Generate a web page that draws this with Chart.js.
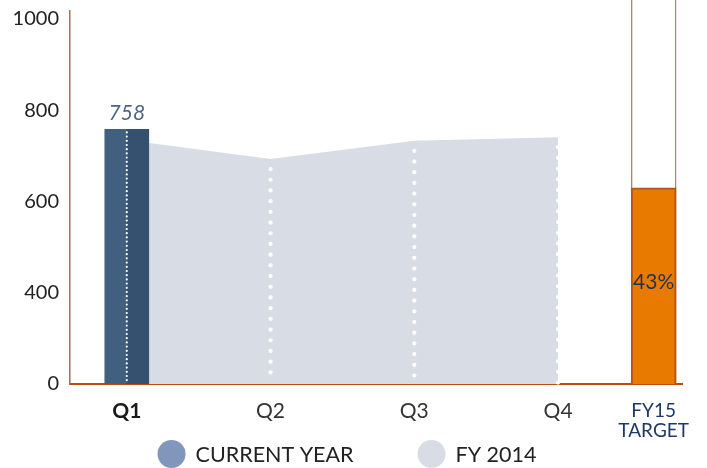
<!DOCTYPE html>
<html>
<head>
<meta charset="utf-8">
<script src="https://cdn.jsdelivr.net/npm/chart.js@4"></script>
<style>
  html, body { margin: 0; padding: 0; background: #fff; }
  #wrap { width: 707px; height: 468px; }
</style>
</head>
<body>
<div id="wrap"><canvas id="myChart" width="707" height="468"></canvas></div>
<script>
const categories = ['Q1', 'Q2', 'Q3', 'Q4'];
const currentYear = [758, null, null, null];
const fy2014 = [735, 693, 733, 741];
const targetLabel = ['FY15', 'TARGET'];
const targetTotal = 1763;
const targetReached = 630;
const targetPercent = '43%';
const yTickValues = [200, 400, 600, 800, 1000];
const yTickLabels = ['0', '400', '600', '800', '1000'];
const legendNames = ['CURRENT YEAR', 'FY 2014'];

const ctx = document.getElementById('myChart');
const FONT = 'Lato, "Open Sans", sans-serif';
const targetX = categories.length - 1 + 0.665;
const xLabels = [...categories, targetLabel];
const yBase = yTickValues[0];

// dotted guides, value labels and the legend
const overlay = {
  id: 'overlay',
  afterDatasetsDraw(chart) {
    const c = chart.ctx;
    const {x, y} = chart.scales;
    const area = chart.chartArea;
    c.save();
    c.fillStyle = '#fff';
    categories.forEach((cat, i) => {
      const px = x.getPixelForValue(i);
      const onBar = currentYear[i] != null;
      const top = y.getPixelForValue(onBar ? currentYear[i] : fy2014[i]) + (onBar ? 3 : 10);
      const step = onBar ? 4.2 : 10.7;
      const r = onBar ? 1.1 : 2.1;
      for (let py = top; py < area.bottom - 1; py += step) {
        c.beginPath();
        c.arc(px, py, r, 0, Math.PI * 2);
        c.fill();
      }
    });

    const bar = chart.getDatasetMeta(1).data[0];
    c.font = 'italic 21px ' + FONT;
    c.fillStyle = '#4d6488';
    c.textAlign = 'center';
    c.textBaseline = 'bottom';
    c.fillText(String(currentYear[0]), bar.x, bar.y - 6);

    const fillBar = chart.getDatasetMeta(3).data[0];
    c.font = '21px ' + FONT;
    c.fillStyle = '#1e3452';
    c.textBaseline = 'middle';
    c.fillText(targetPercent, fillBar.x, (fillBar.y + fillBar.base) / 2 - 4);
    c.restore();
  },
  afterDraw(chart) {
    const c = chart.ctx;
    const colors = ['#8097bb', '#d8dce5'];
    c.save();
    c.font = '21.5px ' + FONT;
    c.textBaseline = 'middle';
    c.textAlign = 'left';
    const box = 28, gap = 10, between = 64, cy = 454;
    const widths = legendNames.map(n => box + gap + c.measureText(n).width);
    let lx = 347 - (widths[0] + widths[1] + between) / 2;
    legendNames.forEach((n, i) => {
      c.fillStyle = colors[i];
      c.beginPath();
      c.arc(lx + box / 2, cy, box / 2, 0, Math.PI * 2);
      c.fill();
      c.fillStyle = '#222';
      c.fillText(n, lx + box + gap, cy + 1);
      lx += widths[i] + between;
    });
    c.restore();
  }
};

const myChart = new Chart(ctx, {
  data: {
    datasets: [
      {
        type: 'line',
        label: 'FY 2014',
        data: fy2014.map((v, i) => ({x: i, y: v})),
        fill: 'start',
        backgroundColor: '#d8dce4',
        borderWidth: 0,
        pointRadius: 0,
        tension: 0,
        order: 3
      },
      {
        type: 'bar',
        label: 'CURRENT YEAR',
        data: currentYear.map((v, i) => ({x: i, y: v})),
        base: yBase,
        barThickness: 44,
        grouped: false,
        order: 1,
        backgroundColor: (context) => {
          const chart = context.chart;
          const sx = chart.scales.x;
          const px = sx ? sx.getPixelForValue(context.dataIndex) : NaN;
          if (!isFinite(px)) return '#3a5777';
          const g = chart.ctx.createLinearGradient(px - 22, 0, px + 22, 0);
          g.addColorStop(0, '#41607f');
          g.addColorStop(0.5, '#41607f');
          g.addColorStop(0.5, '#35516f');
          g.addColorStop(1, '#35516f');
          return g;
        }
      },
      {
        type: 'bar',
        label: 'FY15 TARGET',
        data: [{x: targetX, y: targetTotal}],
        base: yBase,
        barThickness: 45,
        grouped: false,
        clip: false,
        order: 2,
        backgroundColor: '#fff',
        borderColor: '#b98560',
        borderWidth: 1.5
      },
      {
        type: 'bar',
        label: 'FY15 PROGRESS',
        data: [{x: targetX, y: targetReached}],
        base: yBase,
        barThickness: 45,
        grouped: false,
        order: 0,
        backgroundColor: '#e87a00',
        borderColor: '#b0561a',
        borderWidth: 2
      }
    ]
  },
  options: {
    responsive: false,
    animation: false,
    layout: { padding: { top: 11, right: 22, left: 0, bottom: 0 } },
    plugins: {
      legend: { display: false },
      tooltip: { enabled: false }
    },
    scales: {
      x: {
        type: 'linear',
        offset: false,
        min: -0.395,
        max: 3.866,
        grid: { display: false, drawTicks: false },
        border: { color: '#b84e0a', width: 2 },
        afterBuildTicks: (scale) => {
          scale.ticks = xLabels.map((l, i) => ({value: i < categories.length ? i : targetX}));
        },
        afterFit: (scale) => { scale.height = 84; },
        ticks: {
          padding: 17,
          autoSkip: false,
          maxRotation: 0,
          callback: (value, index) => xLabels[index],
          color: (c) => c.index === 0 ? '#1a1a1a' : (c.index === categories.length ? '#1e3a64' : '#333'),
          font: (c) => {
            if (c.index === 0) return {family: FONT, size: 21, weight: 'bold', lineHeight: '20px'};
            if (c.index === categories.length) return {family: FONT, size: 19, lineHeight: '20px'};
            return {family: FONT, size: 21, lineHeight: '20px'};
          }
        }
      },
      y: {
        min: 200,
        max: 1017.5,
        grid: { display: false, drawTicks: false },
        border: { color: '#b86a3a', width: 1.5 },
        afterBuildTicks: (scale) => {
          scale.ticks = yTickValues.map(v => ({value: v}));
        },
        afterFit: (scale) => {
          scale.width = 70;
          scale.paddingTop = 0;
        },
        ticks: {
          padding: 11,
          color: '#222',
          font: { family: FONT, size: 20 },
          callback: (value, index) => yTickLabels[index]
        }
      }
    }
  },
  plugins: [overlay]
});
</script>
</body>
</html>
